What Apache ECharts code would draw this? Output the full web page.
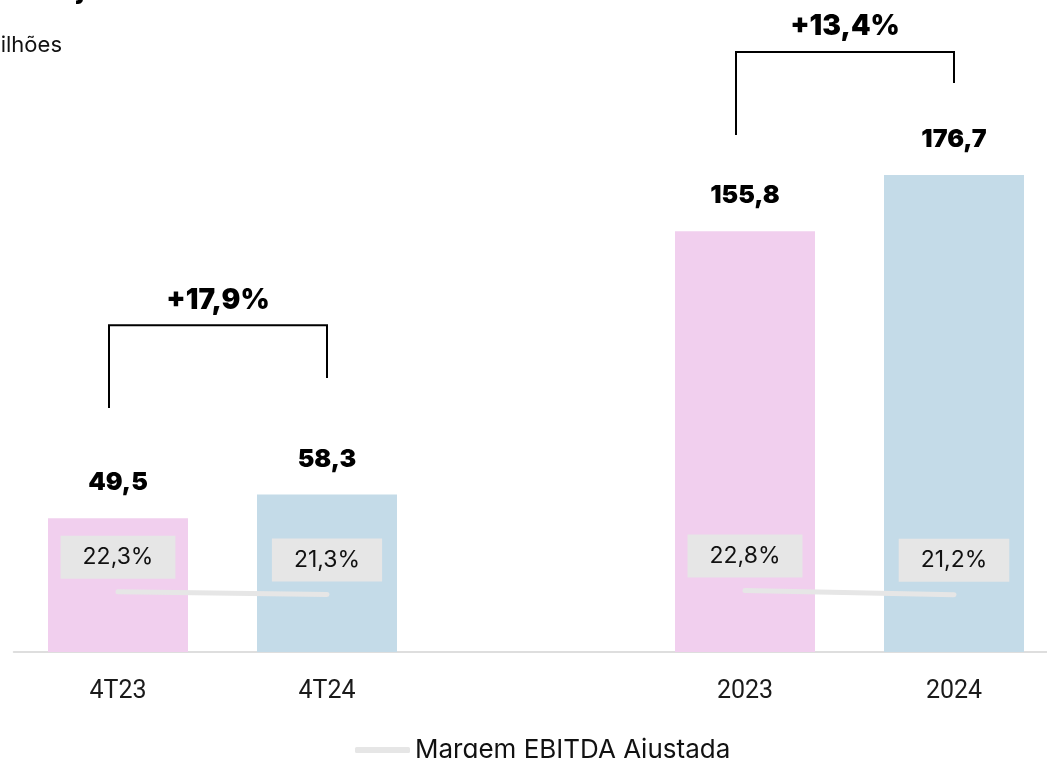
<!DOCTYPE html>
<html>
<head>
<meta charset="utf-8">
<script src="https://cdn.jsdelivr.net/npm/echarts@6/dist/echarts.min.js"></script>
<style>
  html, body { margin: 0; padding: 0; background: #fff; }
  #chart { width: 1047px; height: 758px; }
</style>
</head>
<body>
<div id="chart"></div>
<script>
  // 数据
  var categories = ['4T23', '4T24', '', '2023', '2024'];
  var ebitda = [49.5, 58.3, null, 155.8, 176.7];
  var margem = [22.3, 21.3, null, 22.8, 21.2];
  var barColors = ['#f1cfee', '#c4dbe8', '#ffffff', '#f1cfee', '#c4dbe8'];
  // 括号: [起始类目, 结束类目, 左端底, 右端底, 顶, 文字]
  var brackets = [
    [0, 1, 90.4, 101.5, 121, '+17,9%'],
    [3, 4, 191.5, 210.7, 222.2, '+13,4%']
  ];

  var font = 'Inter, "Noto Sans", sans-serif';
  var fmt = function (v) { return v.toFixed(1).replace('.', ','); };

  var chart = echarts.init(document.getElementById('chart'));
  var option = {
    animation: false,
    textStyle: { fontFamily: font },
    grid: { left: 13.5, top: 4, width: 1045, height: 648, outerBoundsMode: 'none' },
    graphic: [
      {
        type: 'text', left: -62, top: -26,
        style: { text: 'EBITDA Ajustado', font: 'bold 30px ' + font, fill: '#000' }
      },
      {
        type: 'text', right: 985, top: 34,
        style: { text: 'R$ milhões', font: '22px ' + font, fill: '#111' }
      }
    ],
    legend: {
      data: [{ name: 'Margem EBITDA Ajustada', icon: 'roundRect', itemStyle: { color: '#e6e6e6', opacity: 1 } }],
      left: 350, top: 732,
      itemWidth: 55, itemHeight: 6,
      textStyle: { fontSize: 26, color: '#111', fontFamily: font }
    },
    xAxis: {
      type: 'category',
      data: categories,
      axisTick: { show: false },
      axisLine: { lineStyle: { color: '#d4d4d4', width: 1.5 } },
      axisLabel: { fontSize: 25, color: '#1a1a1a', margin: 27, fontFamily: 'Roboto, sans-serif' }
    },
    yAxis: {
      type: 'value', min: 0, max: 240, show: false,
      splitLine: { show: false }
    },
    series: [
      {
        name: 'EBITDA',
        type: 'bar',
        barWidth: 140,
        data: ebitda.map(function (v, i) {
          return { value: v, itemStyle: { color: barColors[i] } };
        }),
        label: {
          show: true, position: 'top', distance: 23,
          fontSize: 25, fontWeight: 900, color: '#000', fontFamily: font,
          formatter: function (p) { return fmt(p.value); }
        }
      },
      {
        name: 'Margem EBITDA Ajustada',
        type: 'line',
        data: margem,
        symbol: 'circle',
        symbolSize: 2,
        showSymbol: true,
        connectNulls: false,
        lineStyle: { color: '#e6e6e6', width: 5, cap: 'round' },
        itemStyle: { color: '#e6e6e6' },
        label: {
          show: true, position: 'top', distance: 12,
          fontSize: 23, color: '#111', fontFamily: font,
          backgroundColor: '#e6e6e6',
          padding: [10, 22],
          formatter: function (p) { return fmt(p.value) + '%'; }
        },
        z: 3
      },
      {
        name: 'brackets',
        type: 'custom',
        data: brackets,
        encode: { x: [0, 1], y: [2, 3, 4] },
        z: 4,
        renderItem: function (params, api) {
          var l = api.coord([api.value(0), api.value(2)]);
          var r = api.coord([api.value(1), api.value(3)]);
          var t = api.coord([api.value(0), api.value(4)])[1];
          var x1 = l[0] - 9, x2 = r[0];
          return {
            type: 'group',
            children: [
              {
                type: 'polyline',
                shape: { points: [[x1, l[1]], [x1, t], [x2, t], [x2, r[1]]] },
                style: { stroke: '#000', lineWidth: 2, fill: null }
              },
              {
                type: 'text',
                x: (x1 + x2) / 2, y: t - 25,
                style: {
                  text: brackets[params.dataIndex][5],
                  font: '900 28px ' + font,
                  fill: '#000', align: 'center', verticalAlign: 'middle'
                }
              }
            ]
          };
        }
      }
    ]
  };
  chart.setOption(option);
</script>
</body>
</html>
